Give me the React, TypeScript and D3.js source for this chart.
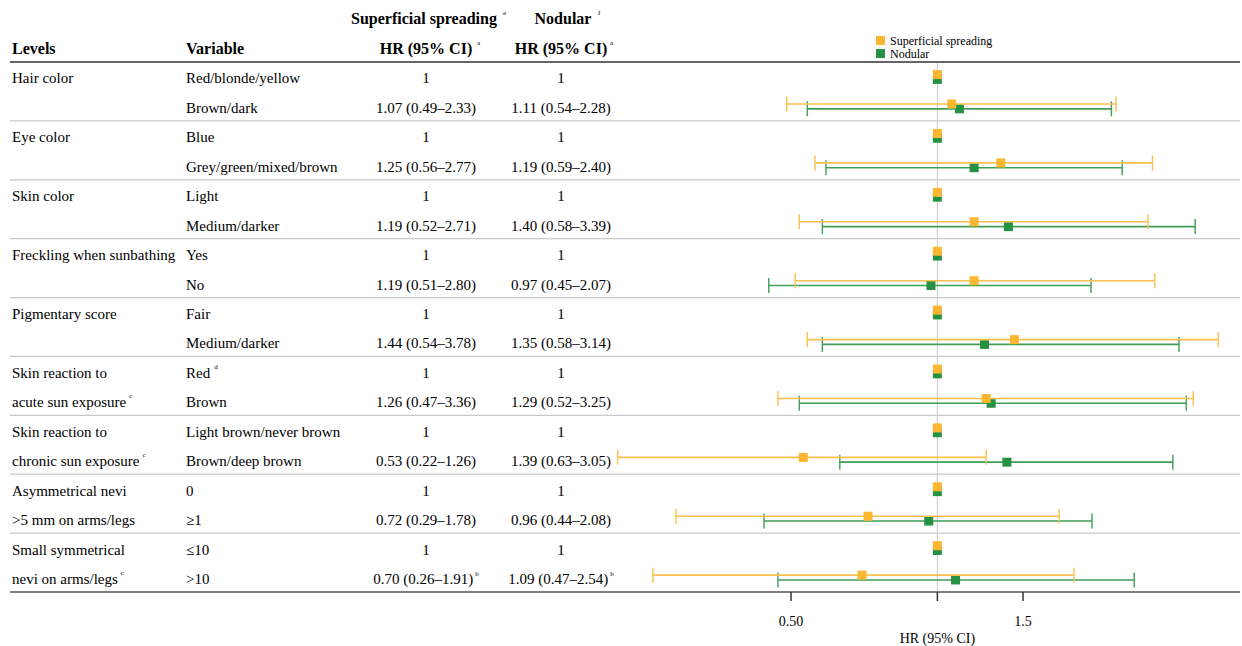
import React from "react";
import * as d3 from "d3";

// table rows, one group per characteristic
const levels = [
  ["Hair color"],
  ["Eye color"],
  ["Skin color"],
  ["Freckling when sunbathing"],
  ["Pigmentary score"],
  ["Skin reaction to", "acute sun exposure"],
  ["Skin reaction to", "chronic sun exposure"],
  ["Asymmetrical nevi", ">5 mm on arms/legs"],
  ["Small symmetrical", "nevi on arms/legs"],
];
const levelSup = ["", "", "", "", "", "c", "c", "", "c"];
const refVariable = ["Red/blonde/yellow", "Blue", "Light", "Yes", "Fair", "Red", "Light brown/never brown", "0", "≤10"];
const cmpVariable = ["Brown/dark", "Grey/green/mixed/brown", "Medium/darker", "No", "Medium/darker", "Brown", "Brown/deep brown", "≥1", ">10"];

// table text as printed
const ssText = ["1.07 (0.49–2.33)", "1.25 (0.56–2.77)", "1.19 (0.52–2.71)", "1.19 (0.51–2.80)", "1.44 (0.54–3.78)", "1.26 (0.47–3.36)", "0.53 (0.22–1.26)", "0.72 (0.29–1.78)", "0.70 (0.26–1.91)"];
const ndText = ["1.11 (0.54–2.28)", "1.19 (0.59–2.40)", "1.40 (0.58–3.39)", "0.97 (0.45–2.07)", "1.35 (0.58–3.14)", "1.29 (0.52–3.25)", "1.39 (0.63–3.05)", "0.96 (0.44–2.08)", "1.09 (0.47–2.54)"];

// values as plotted
const ssHR = [1.07, 1.35, 1.19, 1.19, 1.44, 1.26, 0.53, 0.72, 0.7];
const ssLo = [0.49, 0.56, 0.52, 0.51, 0.54, 0.47, 0.22, 0.29, 0.26];
const ssHi = [2.33, 2.77, 2.71, 2.8, 3.78, 3.36, 1.26, 1.78, 1.91];
const ndHR = [1.11, 1.19, 1.4, 0.97, 1.25, 1.29, 1.39, 0.96, 1.09];
const ndLo = [0.54, 0.59, 0.58, 0.45, 0.58, 0.52, 0.63, 0.44, 0.47];
const ndHi = [2.28, 2.4, 3.39, 2.07, 3.14, 3.25, 3.05, 2.08, 2.54];

const tickValues = [0.5, 1, 1.5];
const tickLabels = ["0.50", "", "1.5"];

const ORANGE = "#FBB731";
const ORANGE_LINE = "#F9C050";
const GREEN = "#249143";
const GREEN_LINE = "#3E9E55";
const FONT = "'Liberation Serif', 'Times New Roman', serif";

export default function App() {
  const width = 1242;
  const height = 646;
  const top = 62;
  const bottom = 592;
  const x = d3.scaleLog().domain([0.5, 1.5]).range([791, 1023]);
  const y = d3.scaleLinear().domain([0, levels.length]).range([top, bottom]);
  const gh = y(1) - y(0);
  const colSS = 426;
  const colND = 561;
  const cap = 7.5;
  const off = 2.4;

  const ciBar = (cy: number, lo: number, hi: number, hr: number, line: string, fill: string) => (
    <g>
      <line x1={x(lo)} x2={x(hi)} y1={cy} y2={cy} stroke={line} strokeWidth={1.6} />
      <line x1={x(lo)} x2={x(lo)} y1={cy - cap} y2={cy + cap} stroke={line} strokeWidth={1.4} />
      <line x1={x(hi)} x2={x(hi)} y1={cy - cap} y2={cy + cap} stroke={line} strokeWidth={1.4} />
      <rect x={x(hr) - 4.5} y={cy - 4.5} width={9} height={9} fill={fill} />
    </g>
  );

  return (
    <svg width={width} height={height} style={{ position: "absolute", left: 0, top: 0 }} fontFamily={FONT}>
      <rect width={width} height={height} fill="#fff" />

      {/* header */}
      <g fontWeight="bold" fontSize={16} fill="#000">
        <text x={12} y={54}>Levels</text>
        <text x={186} y={54}>Variable</text>
        <text x={424} y={24} textAnchor="middle">Superficial spreading</text>
        <text x={503} y={15} fontSize={7} fontWeight="normal">e</text>
        <text x={563} y={24} textAnchor="middle">Nodular</text>
        <text x={598} y={15} fontSize={7} fontWeight="normal">f</text>
        <text x={colSS} y={54} textAnchor="middle">HR (95% CI)</text>
        <text x={colSS + 51} y={45} fontSize={7} fontWeight="normal">a</text>
        <text x={colND} y={54} textAnchor="middle">HR (95% CI)</text>
        <text x={colND + 49} y={45} fontSize={7} fontWeight="normal">a</text>
      </g>

      {/* legend */}
      <g fontSize={12}>
        <rect x={876} y={36} width={9} height={9} fill={ORANGE} />
        <text x={890} y={44.5}>Superficial spreading</text>
        <rect x={876} y={49} width={9} height={9} fill={GREEN} />
        <text x={890} y={57.5}>Nodular</text>
      </g>

      {/* reference line */}
      <line x1={x(1)} x2={x(1)} y1={top} y2={bottom} stroke="#c8c8c8" strokeWidth={1} />

      {/* row separators */}
      {levels.slice(1).map((_, i) => (
        <line key={i} x1={10} x2={1240} y1={y(i + 1)} y2={y(i + 1)} stroke="#c9c9c9" strokeWidth={1.2} />
      ))}
      <line x1={10} x2={1240} y1={top} y2={top} stroke="#666" strokeWidth={2} />
      <line x1={10} x2={1240} y1={bottom} y2={bottom} stroke="#555" strokeWidth={1.5} />

      {levels.map((lv, i) => {
        const g0 = y(i);
        const r1 = g0 + gh * 0.28;
        const r2 = g0 + gh * 0.78;
        const last = lv.length - 1;
        return (
          <g key={i} fontSize={15}>
            {lv.map((t, j) => (
              <text key={j} x={12} y={(j === 0 ? r1 : r2) + 5}>
                {t}
                {j === last && levelSup[i] ? (
                  <tspan fontSize={7} dx={3} dy={-9}>{levelSup[i]}</tspan>
                ) : null}
              </text>
            ))}
            <text x={186} y={r1 + 5}>
              {refVariable[i]}
              {i === 5 ? <tspan fontSize={7} dx={4} dy={-9}>d</tspan> : null}
            </text>
            <text x={186} y={r2 + 5}>{cmpVariable[i]}</text>
            <text x={colSS} y={r1 + 5} textAnchor="middle">1</text>
            <text x={colND} y={r1 + 5} textAnchor="middle">1</text>
            <text x={colSS} y={r2 + 5} textAnchor="middle">
              {ssText[i]}
              {i === 8 ? <tspan fontSize={7} dx={2} dy={-8}>b</tspan> : null}
            </text>
            <text x={colND} y={r2 + 5} textAnchor="middle">
              {ndText[i]}
              {i === 8 ? <tspan fontSize={7} dx={2} dy={-8}>b</tspan> : null}
            </text>

            {/* reference markers */}
            <rect x={x(1) - 4.5} y={r1 - 1.5 - 4.5 + off} width={9} height={9} fill={GREEN} />
            <rect x={x(1) - 4.5} y={r1 - 1.5 - 4.5 - off} width={9} height={9} fill={ORANGE} />

            {ciBar(r2 - 1.5 + off, ndLo[i], ndHi[i], ndHR[i], GREEN_LINE, GREEN)}
            {ciBar(r2 - 1.5 - off, ssLo[i], ssHi[i], ssHR[i], ORANGE_LINE, ORANGE)}
          </g>
        );
      })}

      {/* axis */}
      <g fontSize={14}>
        {tickValues.map((t, i) => (
          <g key={t}>
            <line x1={x(t)} x2={x(t)} y1={bottom} y2={bottom + 9} stroke="#333" strokeWidth={1.5} />
            <text x={x(t)} y={bottom + 34} textAnchor="middle">{tickLabels[i]}</text>
          </g>
        ))}
        <text x={x(1)} y={bottom + 51} textAnchor="middle">HR (95% CI)</text>
      </g>
    </svg>
  );
}
